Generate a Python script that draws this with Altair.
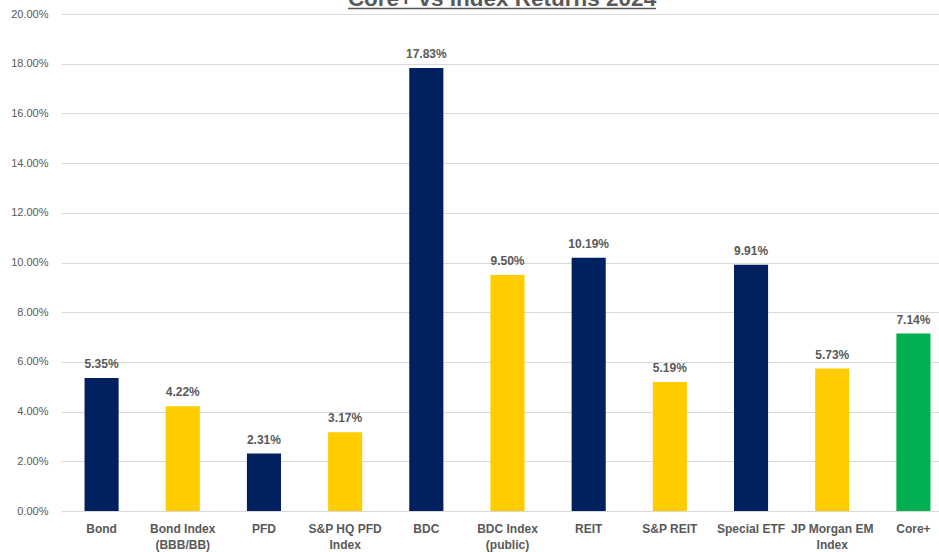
import altair as alt
import pandas as pd

categories = ["Bond", "Bond Index|(BBB/BB)", "PFD", "S&P HQ PFD|Index", "BDC",
              "BDC Index|(public)", "REIT", "S&P REIT", "Special ETF",
              "JP Morgan EM|Index", "Core+"]
returns_pct = [5.35, 4.22, 2.31, 3.17, 17.83, 9.50, 10.19, 5.19, 9.91, 5.73, 7.14]
groups = ["Holding", "Index", "Holding", "Index", "Holding", "Index",
          "Holding", "Index", "Holding", "Index", "Core+"]
group_names = ["Holding", "Index", "Core+"]
group_colors = ["#002060", "#FFCC00", "#00B050"]
y_ticks = [0.0, 0.02, 0.04, 0.06, 0.08, 0.10, 0.12, 0.14, 0.16, 0.18, 0.20]
title_text = "Core+ vs Index Returns 2024"

df = pd.DataFrame({
    "category": categories,
    "value": [v / 100 for v in returns_pct],
    "group": groups,
})

GRAY = "#595959"

x_enc = alt.X(
    "category:N", sort=categories, title=None,
    scale=alt.Scale(range=[1, 894], paddingInner=0.58, paddingOuter=0.29),
    axis=alt.Axis(labelAngle=0, domain=False, ticks=False, labelPadding=12,
                  labelExpr="split(datum.label, '|')", labelFont="Liberation Sans",
                  labelFontWeight="bold", labelFontSize=12, labelColor=GRAY,
                  labelLineHeight=16, labelBaseline="top"),
)
y_enc = alt.Y(
    "value:Q", title=None,
    scale=alt.Scale(domain=[0, 0.2], nice=False),
    axis=alt.Axis(values=y_ticks, format=".2%", domain=False, ticks=False,
                  gridColor="#D9D9D9", gridWidth=1, labelPadding=12,
                  labelFont="Liberation Sans", labelFontSize=11, labelColor=GRAY),
)

bars = alt.Chart(df).mark_bar().encode(
    x=x_enc,
    y=y_enc,
    color=alt.Color("group:N", scale=alt.Scale(domain=group_names, range=group_colors), legend=None),
)

labels = alt.Chart(df).mark_text(
    baseline="alphabetic", dy=-10, font="Liberation Sans", fontWeight="bold",
    fontSize=12, color=GRAY,
).encode(
    x=alt.X("category:N", sort=categories),
    y="value:Q",
    text=alt.Text("value:Q", format=".2%"),
)

title_df = pd.DataFrame({"t": [title_text]})
title_mark = alt.Chart(title_df).mark_text(
    font="Liberation Sans", fontWeight="bold", fontSize=22.5, color=GRAY,
    baseline="alphabetic", align="center",
).encode(x=alt.value(442), y=alt.value(-8), text="t:N")

underline = alt.Chart(title_df).mark_rule(color=GRAY, strokeWidth=1.5).encode(
    x=alt.value(288), x2=alt.value(596), y=alt.value(-5.5)
)

chart = alt.layer(bars, labels, title_mark, underline).properties(
    width=879, height=497,
    autosize=alt.AutoSizeParams(type="none"),
    padding={"left": 60, "top": 14, "right": 0, "bottom": 41},
).configure_view(stroke=None)

chart.save("out.html", embed_options={"renderer": "svg", "actions": False})
